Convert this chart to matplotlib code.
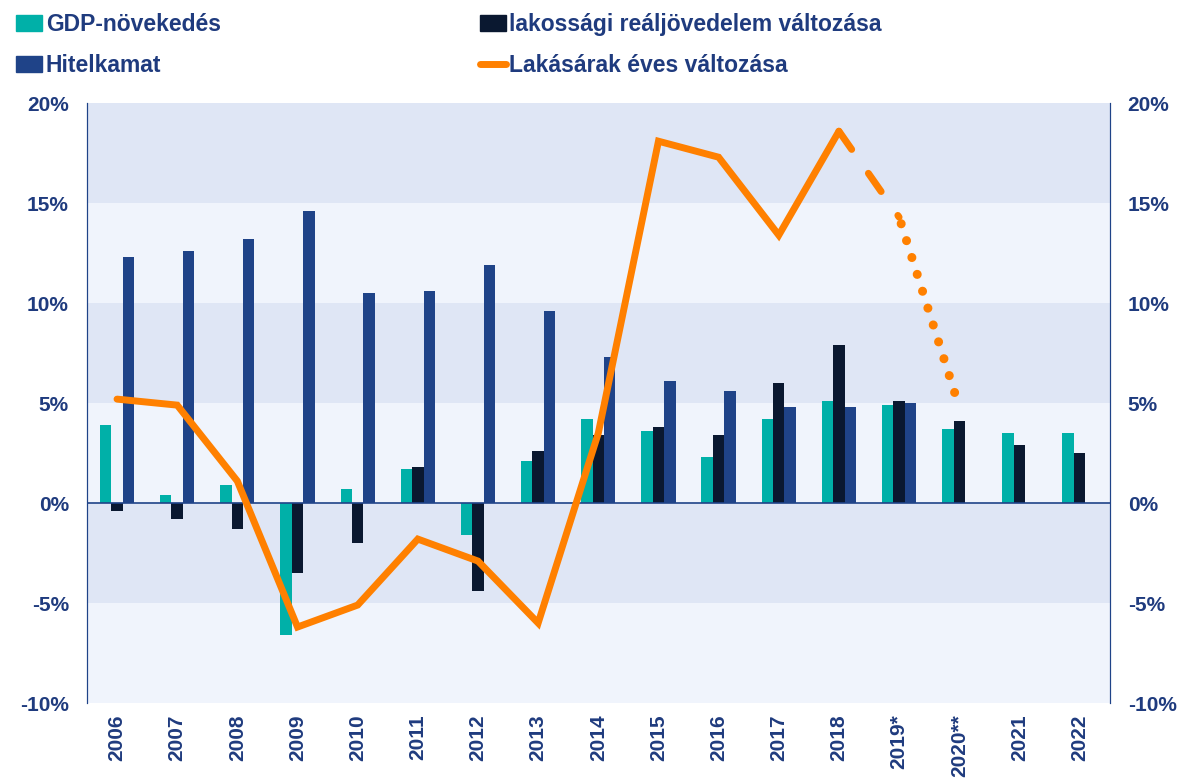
import numpy as np
import matplotlib
matplotlib.use("Agg")
import matplotlib.pyplot as plt
from matplotlib.lines import Line2D
from matplotlib.patches import Patch

years = ['2006', '2007', '2008', '2009', '2010', '2011', '2012', '2013', '2014',
         '2015', '2016', '2017', '2018', '2019*', '2020**', '2021', '2022']
gdp = [3.9, 0.4, 0.9, -6.6, 0.7, 1.7, -1.6, 2.1, 4.2, 3.6, 2.3, 4.2, 5.1, 4.9, 3.7, 3.5, 3.5]
income = [-0.4, -0.8, -1.3, -3.5, -2.0, 1.8, -4.4, 2.6, 3.4, 3.8, 3.4, 6.0, 7.9, 5.1, 4.1, 2.9, 2.5]
rate = [12.3, 12.6, 13.2, 14.6, 10.5, 10.6, 11.9, 9.6, 7.3, 6.1, 5.6, 4.8, 4.8, 5.0,
        np.nan, np.nan, np.nan]
house = [5.2, 4.9, 1.1, -6.2, -5.1, -1.8, -2.9, -6.0, 3.5, 18.1, 17.3, 13.4, 18.6, 14.3,
         4.8, np.nan, np.nan]

TEAL = '#00B0A8'
DARK = '#0A1830'
BLUE = '#1F4388'
ORANGE = '#FF8000'
TXT = '#1F3B7E'

plt.rcParams['font.family'] = ['Liberation Sans', 'DejaVu Sans']

fig = plt.figure(figsize=(11.83, 7.82), dpi=100)
ax = fig.add_axes([0.0735, 0.101, 0.8645, 0.767])

x = np.arange(len(years))
w = 0.19

# background bands
for lo in range(-10, 20, 5):
    c = '#DFE6F5' if (lo // 5) % 2 == 1 else '#F0F4FC'
    ax.axhspan(lo, lo + 5, color=c, zorder=0, lw=0)

ax.bar(x - w, gdp, w, color=TEAL, zorder=2)
ax.bar(x, income, w, color=DARK, zorder=2)
ax.bar(x + w, rate, w, color=BLUE, zorder=2)
ax.axhline(0, color=BLUE, lw=1.2, zorder=3)

# house prices: solid until 2018, dashed to 2019, dotted to 2020
hp = np.array(house)
ax.plot(x[:13], hp[:13], color=ORANGE, lw=5, solid_capstyle='round',
        solid_joinstyle='miter', zorder=4)
ax.plot(x[12:14], hp[12:14], color=ORANGE, lw=5, linestyle=(0, (3.2, 4.2)),
        dash_capstyle='round', zorder=4)
ax.plot(x[13:15], hp[13:15], color=ORANGE, lw=6.5, linestyle=(1.2, (0.01, 1.95)),
        dash_capstyle='round', zorder=4)

ax.set_xlim(-0.5, len(years) - 0.5)
ax.set_ylim(-10, 20)
ax.set_yticks(range(-10, 21, 5))
ax.set_yticklabels([f'{v}%' for v in range(-10, 21, 5)])
ax.set_xticks(x)
ax.set_xticklabels(years, rotation=90)

ax2 = ax.twinx()
ax2.set_ylim(-10, 20)
ax2.set_yticks(range(-10, 21, 5))
ax2.set_yticklabels([f'{v}%' for v in range(-10, 21, 5)])

for a in (ax, ax2):
    for s in ('top', 'bottom'):
        a.spines[s].set_visible(False)
    a.spines['left'].set_color(BLUE)
    a.spines['right'].set_color(BLUE)
    a.tick_params(length=0, labelsize=15, labelcolor=TXT, pad=13)
    for t in a.get_xticklabels() + a.get_yticklabels():
        t.set_fontweight('bold')
ax.tick_params(axis='x', pad=8)

handles = [Patch(color=TEAL), Patch(color=BLUE), Patch(color=DARK),
           Line2D([], [], color=ORANGE, lw=5, solid_capstyle='round')]
labels = ['GDP-növekedés', 'Hitelkamat', 'lakossági reáljövedelem változása',
          'Lakásárak éves változása']
leg = fig.legend(handles, labels, ncol=2, loc='upper left', bbox_to_anchor=(-0.004, 1.01),
                 frameon=False, handlelength=1.15, handletextpad=0.15,
                 columnspacing=11.3, labelspacing=0.8,
                 prop={'weight': 'bold', 'size': 16.5})
for t in leg.get_texts():
    t.set_color(TXT)

fig.savefig('out.png', dpi=100)
